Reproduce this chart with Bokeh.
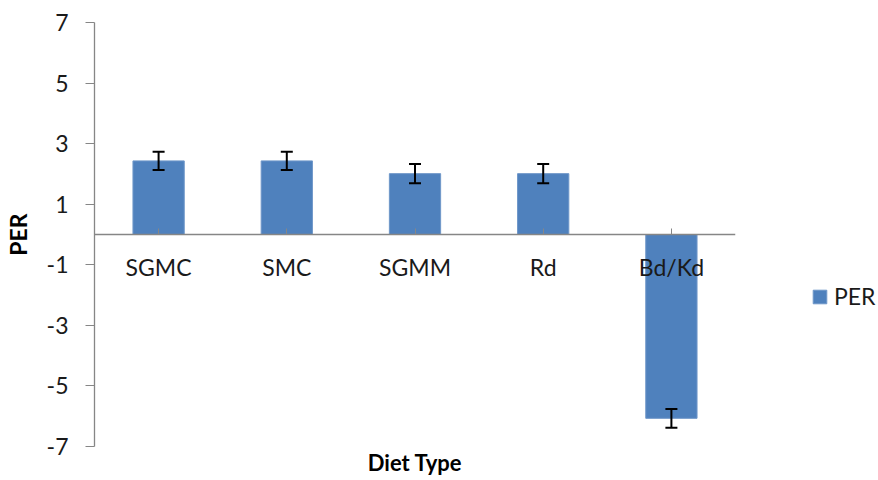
from bokeh.plotting import figure
from bokeh.models import (ColumnDataSource, FactorRange, Range1d, FixedTicker, Whisker,
                          TeeHead, Legend, LegendItem, Title, PrintfTickFormatter)
from bokeh.embed import file_html
from bokeh.resources import INLINE

categories = ["SGMC", "SMC", "SGMM", "Rd", "Bd/Kd"]
per_values = [2.43, 2.43, 2.01, 2.01, -6.07]
per_errors = [0.30, 0.30, 0.32, 0.32, 0.31]
y_ticks = [-7, -5, -3, -1, 1, 3, 5, 7]

FONT = "Lato"
BAR = "#4F81BD"
AXIS = "#868686"
TXT = "#1a1a1a"

src = ColumnDataSource(dict(
    cat=categories,
    val=per_values,
    upper=[v + e for v, e in zip(per_values, per_errors)],
    lower=[v - e for v, e in zip(per_values, per_errors)],
))

p = figure(x_range=FactorRange(*categories, range_padding=0),
           y_range=Range1d(-7, 7),
           frame_width=641, frame_height=424,
           output_backend="svg", toolbar_location=None,
           min_border_left=92, min_border_right=129, min_border_top=22, min_border_bottom=26)
p.outline_line_color = None
p.grid.visible = False
p.background_fill_color = "white"

bars = p.vbar(x="cat", top="val", bottom=0, width=0.4, source=src,
              fill_color=BAR, line_color="#6f97c9", line_width=1)

w = Whisker(base="cat", upper="upper", lower="lower", source=src,
            line_color="black", line_width=2,
            upper_head=TeeHead(size=12, line_color="black", line_width=2),
            lower_head=TeeHead(size=12, line_color="black", line_width=2))
w.level = "overlay"
p.add_layout(w)

# x axis crossing at zero
xa = p.xaxis[0]
xa.fixed_location = 0
xa.axis_line_color = AXIS
xa.axis_line_width = 1.3
xa.major_tick_line_color = AXIS
xa.major_tick_in = 6
xa.major_tick_out = 0
xa.minor_tick_line_color = None
xa.major_label_text_font = FONT
xa.major_label_text_font_size = "23px"
xa.major_label_text_color = TXT
xa.major_label_standoff = 18
xa.axis_label = None

ya = p.yaxis[0]
ya.ticker = FixedTicker(ticks=y_ticks)
ya.formatter = PrintfTickFormatter(format="%d")
ya.axis_line_color = AXIS
ya.axis_line_width = 1.3
ya.major_tick_line_color = AXIS
ya.major_tick_in = 0
ya.major_tick_out = 9
ya.minor_tick_line_color = None
ya.major_label_text_font = FONT
ya.major_label_text_font_size = "23px"
ya.major_label_text_color = TXT
ya.major_label_standoff = 17
ya.axis_label = "PER"
ya.axis_label_text_font = FONT
ya.axis_label_text_font_size = "23px"
ya.axis_label_text_font_style = "bold"
ya.axis_label_text_color = "black"
ya.axis_label_standoff = 12

p.add_layout(Title(text="Diet Type", align="center", text_font=FONT,
                   text_font_size="22px", text_font_style="bold",
                   text_color="black", offset=0, standoff=0), "below")

legend = Legend(items=[LegendItem(label="PER", renderers=[bars])],
                location=(76, 136), padding=0, margin=0, spacing=0,
                glyph_width=17, glyph_height=17, label_height=17,
                label_standoff=6, border_line_color=None,
                background_fill_alpha=0,
                label_text_font=FONT, label_text_font_size="23px",
                label_text_color=TXT)
p.add_layout(legend, "right")

open("out.html", "w").write(file_html(p, INLINE))
